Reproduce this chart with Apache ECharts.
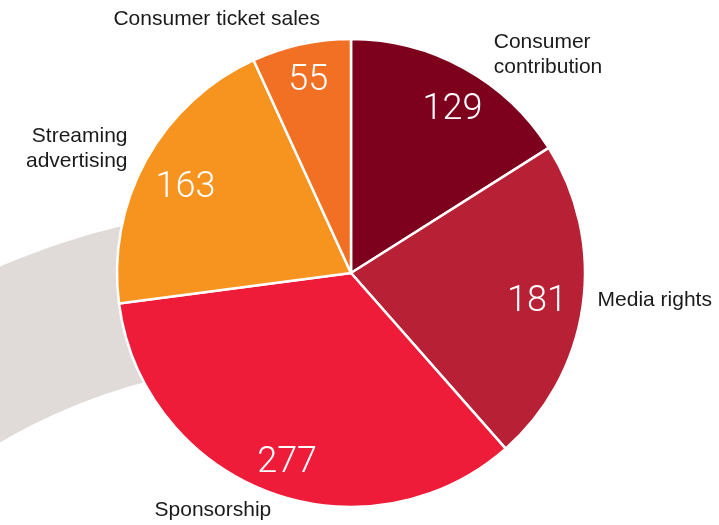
<!DOCTYPE html>
<html>
<head>
<meta charset="utf-8">
<script src="https://cdn.jsdelivr.net/npm/echarts@6/dist/echarts.min.js"></script>
<style>
html,body{margin:0;padding:0;background:#fff;}
#chart{width:719px;height:525px;}
</style>
</head>
<body>
<div id="chart"></div>
<script>
const categories = ['Consumer\ncontribution', 'Media rights', 'Sponsorship', 'Streaming\nadvertising', 'Consumer ticket sales'];
const values = [129, 181, 277, 163, 55];
const colors = ['#7D001C', '#B82135', '#EE1C39', '#F7931F', '#F27024'];

const chart = echarts.init(document.getElementById('chart'));
const CX = 351, CY = 273, R = 234;
const FONT = "'Liberation Sans', Arial, sans-serif";

// small label nudges (layout only)
const outerNudge = [[20, -5], [0, -7], [11, 9], [-5, -6], [26, -15]];
const innerNudge = [[7, 9], [-8, 1], [5, 6], [6, 10], [-1, 0]];

const pieData = categories.map((c, i) => ({ name: c, value: values[i], itemStyle: { color: colors[i] } }));

chart.setOption({
  animation: false,
  graphic: [{
    type: 'sector',
    z: -10,
    shape: { cx: 291, cy: 935, r: 729, r0: 572, startAngle: Math.PI * 1.05, endAngle: Math.PI * 1.53, clockwise: true },
    style: { fill: '#E0DBD8' },
    silent: true
  }],
  series: [{
    type: 'pie',
    center: [CX, CY],
    radius: [0, R],
    startAngle: 90,
    clockwise: true,
    silent: true,
    avoidLabelOverlap: false,
    data: pieData,
    itemStyle: { borderColor: '#fff', borderWidth: 2.5 },
    label: {
      show: true,
      position: 'outside',
      color: '#1a1a1a',
      fontFamily: FONT,
      fontSize: 21,
      lineHeight: 25,
      formatter: p => p.name
    },
    labelLine: { show: false, length: 10, length2: 0 },
    labelLayout: p => ({ dx: outerNudge[p.dataIndex][0], dy: outerNudge[p.dataIndex][1], hideOverlap: false })
  }, {
    type: 'pie',
    center: [CX, CY],
    radius: [152, R],
    startAngle: 90,
    clockwise: true,
    silent: true,
    avoidLabelOverlap: false,
    data: categories.map((c, i) => ({ name: c, value: values[i] })),
    itemStyle: { color: 'rgba(0,0,0,0)', borderWidth: 0 },
    label: {
      show: true,
      position: 'inside',
      color: '#fff',
      fontFamily: "Roboto, 'Liberation Sans', sans-serif",
      fontWeight: 300,
      fontSize: 36,
      formatter: p => String(p.value)
    },
    labelLine: { show: false },
    labelLayout: p => ({ dx: innerNudge[p.dataIndex][0], dy: innerNudge[p.dataIndex][1], hideOverlap: false })
  }]
});
</script>
</body>
</html>
